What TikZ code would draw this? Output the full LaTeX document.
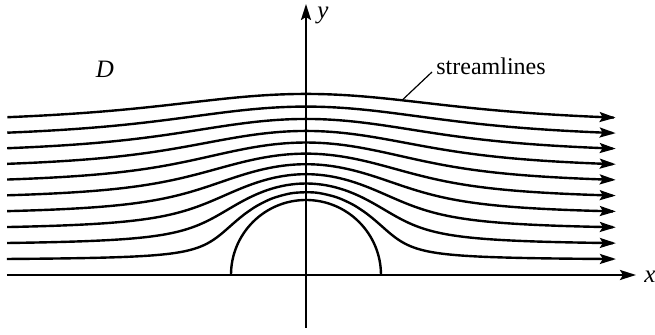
\documentclass[tikz,border=0pt]{standalone}
\usepackage{fontspec}
\setmainfont{Liberation Serif}
\usetikzlibrary{arrows.meta}
\begin{document}
\begin{tikzpicture}[x=50pt,y=50pt,
  tip/.style={-{Stealth[length=8pt,width=5pt,inset=1.5pt]}},
  flow/.style={line width=1.2pt,tip},
  axisline/.style={line width=1.1pt,tip},
  wall/.style={line width=1.2pt},
  leader/.style={line width=0.6pt},
  lbl/.style={font=\fontsize{12}{14}\selectfont, inner sep=0pt},
  sym/.style={font=\fontsize{12.5}{14}\selectfont\itshape, inner sep=0pt}]
\useasboundingbox (-3.06,-0.60) rectangle (3.49,2.75);
% axes
\coordinate (xs) at (-2.99,0);
\coordinate (xe) at (3.30,0);
\coordinate (ys) at (0,-0.53);
\coordinate (ye) at (0,2.71);
\draw[axisline] (xs) -- (xe);
\draw[axisline] (ys) -- (ye);
\node[sym] (xl) at (3.44,-0.02) {x};
\node[sym] (yl) at (0.17,2.60) {y};
% obstacle
\draw[wall] (0.75,0) arc (0:180:0.75);
% streamlines (potential flow past a cylinder)
\foreach \k in {1,...,10}{
  \pgfmathsetmacro\h{0.15*\k}
  \pgfmathsetmacro\ys{\h/(1-0.5625/(2.99*2.99+\h*\h))}
  \pgfmathsetmacro\us{-2.99*\h/\ys}
  \pgfmathsetmacro\ye{\h/(1-0.5625/(3.10*3.10+\h*\h))}
  \pgfmathsetmacro\ue{3.10*\h/\ye}
  \draw[flow] plot[domain=\us:\ue, samples=141, smooth, variable=\u]
    ({\u*(1+sqrt(1+2.25/(\u*\u+\h*\h)))/2}, {\h*(1+sqrt(1+2.25/(\u*\u+\h*\h)))/2});
}
% labels
\node[sym] (D) at (-2.01,2.06) {D};
\node[lbl, anchor=base west] (sl) at (1.30,2.00) {streamlines};
\coordinate (lead) at (0.96,1.747);
\draw[leader] (lead) -- ([shift={(-2pt,1.5pt)}]sl.base west);
\end{tikzpicture}
\end{document}
